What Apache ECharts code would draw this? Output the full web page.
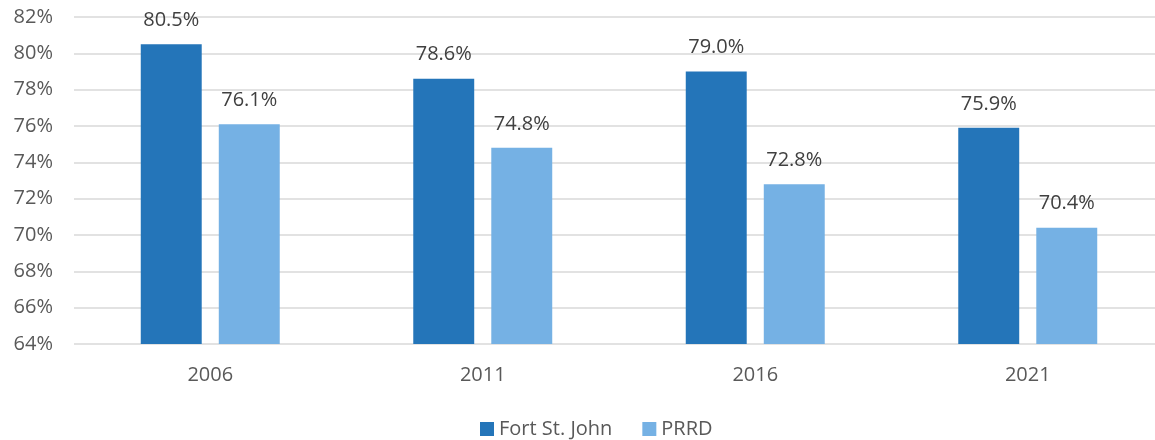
<!DOCTYPE html>
<html>
<head>
<meta charset="utf-8">
<script src="https://cdn.jsdelivr.net/npm/echarts@6/dist/echarts.min.js"></script>
<style>
  html, body { margin: 0; padding: 0; background: #fff; }
  #chart { width: 1155px; height: 440px; }
</style>
</head>
<body>
<div id="chart"></div>
<script>
const years = ['2006', '2011', '2016', '2021']
const fortStJohn = [80.5, 78.6, 79.0, 75.9]
const prrd = [76.1, 74.8, 72.8, 70.4]
const seriesNames = ['Fort St. John', 'PRRD']

const font = '"Open Sans", "Liberation Sans", sans-serif'

const chart = echarts.init(document.getElementById('chart'))

const barLabel = {
  show: true,
  position: 'top',
  distance: 14,
  fontFamily: font,
  fontSize: 20,
  color: '#404040',
  formatter: p => p.value.toFixed(1) + '%'
}

chart.setOption({
  animation: false,
  grid: {
    left: 74,
    top: 17,
    width: 1090,
    height: 327,
    outerBoundsMode: 'none'
  },
  legend: {
    data: seriesNames,
    top: 414,
    left: 475,
    itemWidth: 14,
    itemHeight: 14,
    itemGap: 30,
    icon: 'rect',
    textStyle: { fontFamily: font, fontSize: 20, color: '#595959' }
  },
  xAxis: {
    type: 'category',
    data: years,
    axisLine: { show: false },
    axisTick: { show: false },
    axisLabel: { fontFamily: font, fontSize: 20, color: '#595959', margin: 21 }
  },
  yAxis: {
    type: 'value',
    min: 64,
    max: 82,
    interval: 2,
    axisLabel: {
      fontFamily: font,
      fontSize: 20,
      color: '#595959',
      margin: 21,
      formatter: v => v + '%'
    },
    splitLine: { lineStyle: { color: '#d9d9d9', width: 1.5 } }
  },
  series: [
    {
      name: seriesNames[0],
      type: 'bar',
      data: fortStJohn,
      itemStyle: { color: '#2475B9' },
      barGap: '28%',
      barCategoryGap: '49%',
      label: barLabel
    },
    {
      name: seriesNames[1],
      type: 'bar',
      data: prrd,
      itemStyle: { color: '#75B1E4' },
      barGap: '28%',
      barCategoryGap: '49%',
      label: barLabel
    }
  ]
})
</script>
</body>
</html>
